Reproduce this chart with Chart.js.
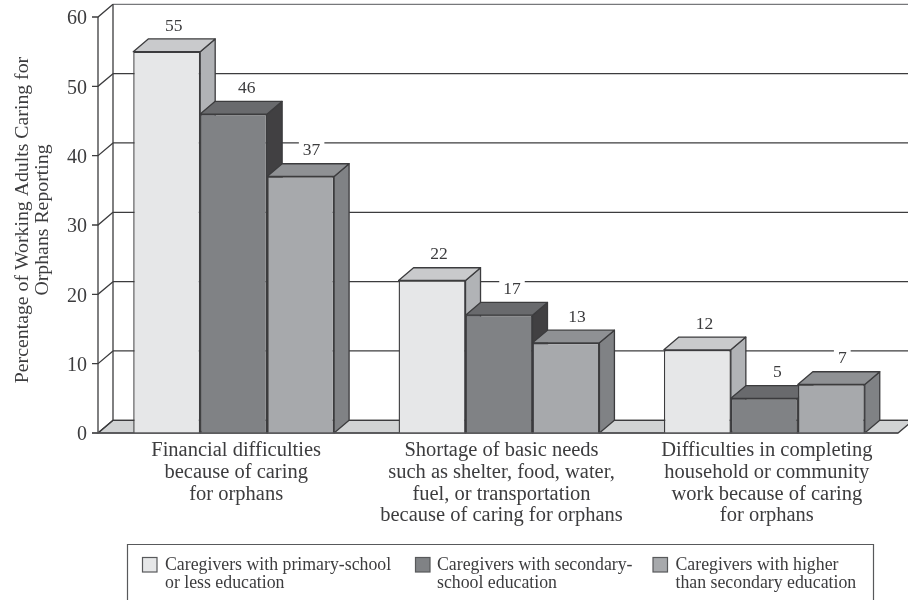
<!DOCTYPE html>
<html>
<head>
<meta charset="utf-8">
<style>html,body{margin:0;padding:0;background:#fff}canvas{display:block}</style>
<script src="https://cdn.jsdelivr.net/npm/chart.js@4/dist/chart.umd.min.js"></script>
</head>
<body>
<canvas id="chart" width="908" height="600"></canvas>
<script>
const categories = [
  ["Financial difficulties", "because of caring", "for orphans"],
  ["Shortage of basic needs", "such as shelter, food, water,", "fuel, or transportation", "because of caring for orphans"],
  ["Difficulties in completing", "household or community", "work because of caring", "for orphans"]
];
const primaryLabel = ["Caregivers with primary-school", "or less education"];
const secondaryLabel = ["Caregivers with secondary-", "school education"];
const higherLabel = ["Caregivers with higher", "than secondary education"];
const primaryValues = [55, 22, 12];
const secondaryValues = [46, 17, 5];
const higherValues = [37, 13, 7];
const yTitle = ["Percentage of Working Adults Caring for", "Orphans Reporting"];

const SERIF = '"Liberation Serif", serif';
const INK = "#3c3c3e";
const DEPTH_X = 15, DEPTH_Y = 12.7;
const VALUE_NUDGE = [7, 13, 11];
const LEGEND_X = [[142.5, 165], [415.5, 437], [653, 675.5]];

const shades = [
  { front: "#e6e7e8", top: "#c9cacc", side: "#b1b3b6" },
  { front: "#808285", top: "#696a6d", side: "#414042" },
  { front: "#a7a9ac", top: "#8f9194", side: "#808285" }
];

function poly(ctx, pts, fill) {
  ctx.beginPath();
  pts.forEach((p, i) => i ? ctx.lineTo(p[0], p[1]) : ctx.moveTo(p[0], p[1]));
  ctx.closePath();
  if (fill) { ctx.fillStyle = fill; ctx.fill(); }
  ctx.stroke();
}

const depthPlugin = {
  id: "depth",
  beforeDatasetsDraw(chart) {
    const { ctx, chartArea: a, scales: { y } } = chart;
    const base = y.getPixelForValue(0);
    const axisX = a.left - 3;
    ctx.save();
    ctx.strokeStyle = INK;
    ctx.lineWidth = 1.3;

    // floor of the box
    poly(ctx, [[axisX, base], [axisX + DEPTH_X, base - DEPTH_Y], [a.right + 16, base - DEPTH_Y], [a.right + 1, base]], "#d1d3d4");

    // rear wall rules and the diagonal ticks joining them to the axis
    y.ticks.forEach(t => {
      const py = y.getPixelForValue(t.value);
      ctx.strokeStyle = t.value === 60 ? "#77787b" : INK;
      ctx.beginPath();
      ctx.moveTo(axisX + DEPTH_X, py - DEPTH_Y);
      ctx.lineTo(908, py - DEPTH_Y);
      ctx.stroke();
      ctx.strokeStyle = INK;
      ctx.beginPath();
      ctx.moveTo(axisX - 6, py);
      ctx.lineTo(axisX, py);
      ctx.lineTo(axisX + DEPTH_X, py - DEPTH_Y);
      ctx.stroke();
    });

    ctx.beginPath();
    ctx.moveTo(axisX + DEPTH_X, y.top - DEPTH_Y);
    ctx.lineTo(axisX + DEPTH_X, base - DEPTH_Y);
    ctx.moveTo(axisX, y.top);
    ctx.lineTo(axisX, base);
    ctx.stroke();

    // top and side faces; native bars paint the front faces afterwards
    ctx.lineJoin = "round";
    chart.data.datasets.forEach((ds, di) => {
      chart.getDatasetMeta(di).data.forEach(bar => {
        const half = bar.width / 2;
        const l = bar.x - half, r = bar.x + half, t = bar.y;
        poly(ctx, [[r, t], [r + DEPTH_X, t - DEPTH_Y], [r + DEPTH_X, base - DEPTH_Y], [r, base]], shades[di].side);
        poly(ctx, [[l, t], [l + DEPTH_X, t - DEPTH_Y], [r + DEPTH_X, t - DEPTH_Y], [r, t]], shades[di].top);
      });
    });
    ctx.restore();
  },
  afterDatasetsDraw(chart) {
    const { ctx, chartArea: a, scales: { y } } = chart;
    const base = y.getPixelForValue(0);
    ctx.save();
    ctx.strokeStyle = "#58595b";
    ctx.lineWidth = 1.6;
    ctx.beginPath();
    ctx.moveTo(a.left - 9, base);
    ctx.lineTo(a.right + 1, base);
    ctx.stroke();

    // value labels sit on a white patch that interrupts the rear rules
    ctx.font = "17.5px " + SERIF;
    ctx.textAlign = "center";
    ctx.textBaseline = "middle";
    chart.data.datasets.forEach((ds, di) => {
      chart.getDatasetMeta(di).data.forEach((bar, i) => {
        const tx = bar.x + VALUE_NUDGE[di];
        const ty = bar.y - DEPTH_Y - 13;
        const w = ctx.measureText(ds.data[i]).width + 8;
        ctx.fillStyle = "#fff";
        ctx.fillRect(tx - w / 2, ty - 9, w, 18);
        ctx.fillStyle = INK;
        ctx.fillText(ds.data[i], tx, ty);
      });
    });

    // rotated axis title
    ctx.save();
    ctx.font = "19.8px " + SERIF;
    ctx.translate(23, 220);
    ctx.rotate(-Math.PI / 2);
    ctx.fillText(yTitle[0], 0, 0);
    ctx.fillText(yTitle[1], 0, 20);
    ctx.restore();

    // legend panel, open at the foot of the page
    ctx.strokeStyle = "#58595b";
    ctx.lineWidth = 1.2;
    ctx.beginPath();
    ctx.moveTo(127.5, 601);
    ctx.lineTo(127.5, 544.5);
    ctx.lineTo(873.5, 544.5);
    ctx.lineTo(873.5, 601);
    ctx.stroke();
    ctx.font = "17.8px " + SERIF;
    ctx.textAlign = "left";
    chart.data.datasets.forEach((ds, di) => {
      const [sx, tx] = LEGEND_X[di];
      ctx.fillStyle = ds.backgroundColor;
      ctx.fillRect(sx, 557.5, 14.5, 14.5);
      ctx.strokeRect(sx, 557.5, 14.5, 14.5);
      ctx.fillStyle = INK;
      ds.label.forEach((line, k) => ctx.fillText(line, tx, 565 + k * 18.5));
    });
    ctx.restore();
  }
};

new Chart(document.getElementById("chart"), {
  type: "bar",
  data: {
    labels: categories,
    datasets: [
      { label: primaryLabel, data: primaryValues, backgroundColor: shades[0].front },
      { label: secondaryLabel, data: secondaryValues, backgroundColor: shades[1].front },
      { label: higherLabel, data: higherValues, backgroundColor: shades[2].front }
    ].map(d => Object.assign(d, {
      borderColor: INK, borderWidth: 1.4,
      categoryPercentage: 0.757, barPercentage: 1
    }))
  },
  options: {
    responsive: false,
    animation: false,
    layout: { padding: { top: 17, right: 11, bottom: 0, left: 0 } },
    plugins: { legend: { display: false }, tooltip: { enabled: false }, title: { display: false } },
    scales: {
      x: {
        grid: { display: false, drawTicks: false },
        border: { display: false },
        ticks: {
          autoSkip: false,
          maxRotation: 0,
          padding: 7,
          labelOffset: 2.5,
          color: INK,
          font: { family: SERIF, size: 20.5, lineHeight: "21.7px" }
        },
        afterFit(s) { s.height = 167; }
      },
      y: {
        min: 0,
        max: 60,
        grid: { display: false, drawTicks: false },
        border: { display: false },
        ticks: {
          stepSize: 10,
          padding: 14,
          labelOffset: 2,
          color: INK,
          font: { family: SERIF, size: 20 }
        },
        afterFit(s) {
          s.width = 101;
          s.paddingTop = 0;
          s.paddingBottom = 0;
        }
      }
    }
  },
  plugins: [depthPlugin]
});
</script>
</body>
</html>
